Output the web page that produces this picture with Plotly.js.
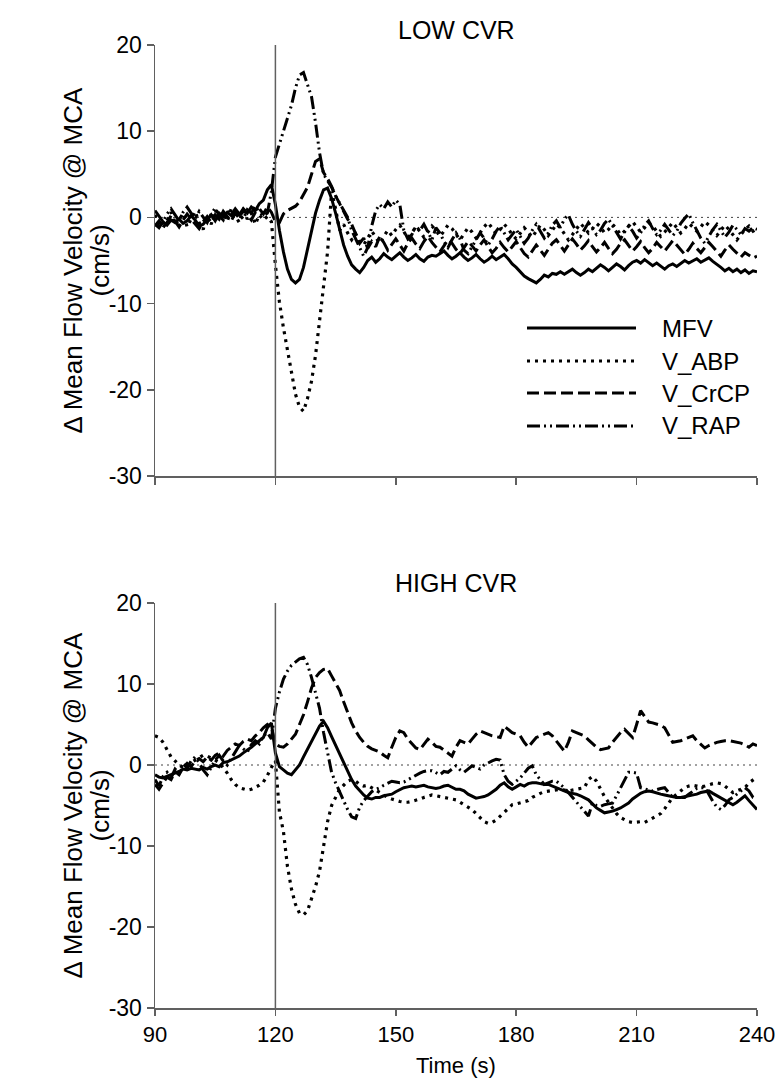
<!DOCTYPE html>
<html>
<head>
<meta charset="utf-8">
<script src="https://cdn.plot.ly/plotly-3.0.1.min.js"></script>
<style>html,body{margin:0;padding:0;background:#fff;}#chart{width:783px;height:1080px;}</style>
</head>
<body>
<div id="chart"></div>
<script>
// ---------- DATA ----------
const time = [
 90,91,92,93,94,95,96,97,98,99,
 100,101,102,103,104,105,106,107,108,109,
 110,111,112,113,114,115,116,117,118,119,
 120,121,122,123,124,125,126,127,128,129,
 130,131,132,133,134,135,136,137,138,139,
 140,141,142,143,144,145,146,147,148,149,
 150,151,152,153,154,155,156,157,158,159,
 160,161,162,163,164,165,166,167,168,169,
 170,171,172,173,174,175,176,177,178,179,
 180,181,182,183,184,185,186,187,188,189,
 190,191,192,193,194,195,196,197,198,199,
 200,201,202,203,204,205,206,207,208,209,
 210,211,212,213,214,215,216,217,218,219,
 220,221,222,223,224,225,226,227,228,229,
 230,231,232,233,234,235,236,237,238,239,
 240];

const seriesNames = ['MFV', 'V_ABP', 'V_CrCP', 'V_RAP'];
const panelTitles = ['LOW CVR', 'HIGH CVR'];
const xTicks = [90, 120, 150, 180, 210, 240];
const yTicks = [-30, -20, -10, 0, 10, 20];
const yTickText = ['-30', '-20', '-10', '0', '10', '20'];
const stimulusTime = 120;
const baseline = 0;

// LOW CVR
const lowMFV = [
 -0.8,-1.2,-0.5,-0.9,-0.3,-0.6,-0.2,-0.7,-0.4,0.2,
 -0.3,-1.0,-0.8,-0.2,0.3,-0.4,0.5,0.1,0.6,0.2,
 0.8,0.3,1.0,0.5,1.2,0.8,1.6,2.0,3.2,3.8,
 1.5,-1.5,-4.0,-6.0,-7.2,-7.6,-7.2,-5.8,-3.8,-1.5,
 0.5,2.0,3.2,3.4,2.2,0.5,-1.5,-3.2,-4.5,-5.5,
 -6.0,-6.4,-5.8,-5.0,-4.6,-5.2,-4.8,-4.2,-4.6,-4.9,
 -4.5,-4.1,-4.6,-5.0,-4.7,-4.3,-4.8,-5.1,-4.6,-4.4,
 -4.5,-4.2,-3.9,-4.4,-4.8,-4.5,-4.1,-4.6,-5.0,-4.7,
 -4.3,-4.8,-5.2,-4.9,-4.5,-4.9,-4.6,-4.3,-4.8,-5.4,
 -5.8,-6.3,-6.8,-7.1,-7.4,-7.6,-7.2,-6.7,-6.9,-6.5,
 -6.6,-6.3,-6.6,-6.3,-6.0,-6.4,-6.7,-6.4,-6.0,-6.3,
 -5.9,-5.5,-5.8,-6.2,-5.8,-5.4,-5.7,-6.1,-5.6,-5.2,
 -5.0,-5.3,-4.9,-5.2,-5.6,-5.3,-5.7,-6.0,-5.6,-5.4,
 -5.7,-5.4,-5.0,-5.3,-5.0,-4.8,-5.2,-4.9,-4.7,-5.1,
 -5.4,-5.8,-6.2,-5.9,-6.3,-6.0,-6.4,-6.1,-6.5,-6.2,
 -6.3];
const lowABP = [
 0.3,-0.8,-1.2,-0.4,0.6,-0.9,-0.3,0.5,-1.1,-0.2,
 0.7,-0.6,-1.4,0.2,-0.8,0.9,-0.3,0.6,-0.5,1.0,
 0.2,-0.6,0.8,-0.2,0.5,-0.8,0.3,-0.3,0.1,-0.5,
 -5.5,-9.8,-12.8,-15.5,-18.2,-20.5,-22.0,-22.5,-21.0,-19.0,
 -16.0,-12.0,-8.5,-4.0,3.0,1.0,-1.5,-0.8,-1.8,-2.6,
 -1.9,-2.8,-3.2,-2.4,-1.6,-2.3,-3.0,-2.2,-1.5,-2.1,
 -1.4,-0.9,-1.7,-2.4,-1.8,-1.1,-1.6,-2.3,-1.7,-1.0,
 -1.5,-2.2,-1.6,-0.9,-1.3,-2.0,-2.6,-1.9,-1.2,-1.7,
 -2.4,-1.8,-1.1,-0.6,-1.2,-1.9,-1.4,-0.8,-1.3,-2.0,
 -2.5,-1.8,-1.2,-1.7,-2.3,-1.6,-0.9,-1.4,-2.1,-1.5,
 -0.8,-1.2,-1.9,-2.6,-2.0,-1.3,-0.7,-1.2,-1.8,-1.3,
 -0.7,-1.1,-1.8,-1.4,-0.8,-1.3,-2.0,-1.6,-1.0,-0.5,
 -1.1,-1.7,-1.2,-0.6,-1.0,-1.6,-2.2,-1.7,-1.1,-0.6,
 -1.2,-1.8,-1.3,-0.7,-1.1,-1.6,-1.1,-0.5,-0.9,-1.5,
 -2.1,-1.5,-0.9,-1.4,-2.0,-2.6,-2.0,-1.4,-1.0,-1.6,
 -1.3];
const lowCrCP = [
 -1.0,-0.4,-1.2,-0.6,0.2,-0.5,-1.1,-0.3,0.4,-0.2,
 -0.8,-1.3,-0.5,0.1,-0.6,0.3,-0.2,0.7,0.1,-0.4,
 0.5,-0.1,0.9,0.3,-0.3,0.6,1.0,0.4,1.2,0.6,
 -0.5,-0.6,0.4,0.8,1.1,1.3,1.8,2.6,3.5,5.0,
 6.5,6.8,5.2,4.5,3.6,2.5,1.6,0.8,-0.2,-0.8,
 -2.0,-3.0,-2.4,-3.6,-2.8,-3.4,-2.2,-2.9,-3.8,-3.1,
 -2.5,-3.2,-3.9,-3.0,-2.4,-3.1,-3.6,-2.8,-2.2,-2.9,
 -3.5,-4.0,-3.3,-2.6,-3.0,-3.7,-4.2,-3.5,-2.8,-3.3,
 -3.9,-3.2,-2.6,-3.4,-4.1,-3.6,-2.9,-3.5,-4.0,-3.4,
 -2.8,-3.5,-4.2,-4.6,-3.9,-3.2,-3.8,-4.4,-3.7,-3.0,
 -2.6,-3.3,-3.9,-3.2,-2.5,-3.1,-3.8,-3.3,-2.7,-3.4,
 -4.0,-3.5,-2.9,-3.6,-4.2,-3.7,-3.0,-2.6,-3.3,-3.9,
 -3.4,-2.8,-3.5,-4.1,-3.6,-2.9,-3.4,-3.9,-3.3,-2.7,
 -3.2,-3.8,-4.3,-3.7,-3.0,-3.6,-4.1,-3.5,-2.9,-3.4,
 -4.0,-4.5,-3.8,-3.2,-3.7,-4.2,-4.6,-4.1,-4.4,-4.7,
 -4.5];
const lowRAP = [
 0.8,0.2,-0.5,0.4,1.0,0.3,-0.4,0.6,1.2,0.5,
 -0.2,0.7,0.1,-0.6,0.4,1.1,0.2,-0.3,0.8,0.3,
 1.0,0.4,-0.2,0.9,0.5,1.3,0.6,0.2,0.5,3.0,
 7.0,8.5,10.0,11.5,13.0,15.0,16.5,16.8,15.5,14.0,
 11.0,7.5,5.0,4.2,3.5,2.5,1.7,0.8,0.0,-1.5,
 -2.5,-3.5,-4.5,-3.5,-1.0,0.8,1.5,1.0,1.8,1.2,
 2.0,1.5,-1.5,-2.5,-2.0,-1.0,-1.5,-0.8,-1.8,-2.6,
 -1.2,-1.8,-2.8,-3.5,-2.6,-1.8,-2.5,-3.8,-4.2,-3.4,
 -2.6,-1.8,-2.4,-3.2,-2.5,-1.6,-1.0,-1.8,-2.6,-2.0,
 -1.4,-2.2,-3.0,-2.4,-1.5,-0.8,-1.6,-2.4,-1.8,-0.9,
 -0.4,-1.2,-0.2,0.3,-0.8,-1.6,-2.2,-1.4,-0.6,-1.3,
 -2.0,-1.5,-0.7,-0.2,-1.0,-1.8,-2.5,-1.7,-1.0,-1.6,
 -2.4,-1.8,-0.9,-0.4,-1.3,-2.0,-1.5,-0.8,-1.4,-2.1,
 -1.6,-0.7,-0.1,0.4,-0.6,-1.5,-2.4,-3.0,-2.2,-1.4,
 -0.8,-1.5,-2.3,-1.7,-0.9,-1.4,-2.0,-1.3,-1.6,-1.2,
 -1.4];

// HIGH CVR
const highMFV = [
 -1.2,-1.5,-1.6,-1.4,-1.2,-1.0,-0.8,-0.5,-0.6,-0.4,
 -0.5,-0.6,-0.3,-0.5,-0.2,0.0,-0.2,0.3,0.4,0.6,
 0.9,1.1,1.5,1.8,2.2,2.6,3.0,3.4,4.6,5.2,
 1.5,-0.2,-0.6,-1.0,-1.2,-0.6,0.0,1.0,2.0,3.0,
 3.9,4.8,5.4,4.6,3.5,2.4,1.5,0.3,-0.8,-1.8,
 -2.6,-3.2,-3.7,-4.1,-4.2,-4.0,-4.0,-3.8,-3.7,-3.6,
 -3.3,-3.0,-2.8,-2.7,-2.6,-2.7,-2.6,-2.5,-2.7,-2.8,
 -2.9,-2.8,-2.6,-2.5,-2.8,-3.0,-3.0,-3.2,-3.6,-3.9,
 -4.1,-4.0,-3.9,-3.7,-3.4,-3.0,-2.5,-2.2,-2.7,-3.0,
 -2.7,-2.4,-2.6,-2.3,-2.2,-2.2,-2.3,-2.4,-2.4,-2.6,
 -2.8,-3.0,-3.2,-3.4,-3.5,-3.6,-3.8,-4.1,-4.3,-4.8,
 -5.3,-5.6,-5.9,-5.8,-5.7,-5.5,-5.3,-5.0,-4.7,-4.2,
 -3.8,-3.5,-3.3,-3.2,-3.3,-3.5,-3.6,-3.7,-3.8,-3.9,
 -4.0,-4.0,-3.9,-3.8,-3.7,-3.6,-3.4,-3.3,-3.2,-3.5,
 -3.8,-4.0,-4.3,-4.6,-4.9,-4.6,-4.2,-3.8,-4.4,-5.0,
 -5.5];
const highABP = [
 3.6,3.4,2.8,1.8,1.0,0.5,0.0,-0.3,-0.2,0.3,
 0.6,1.0,1.2,1.1,0.9,0.6,0.3,-0.3,-1.0,-1.8,
 -2.4,-2.8,-3.0,-3.1,-3.0,-2.8,-2.5,-2.1,-1.3,-0.3,
 0.5,-5.8,-8.2,-12.5,-15.3,-17.2,-18.3,-18.5,-18.0,-16.5,
 -15.0,-13.1,-10.2,-7.0,-5.0,-3.9,-3.0,-2.5,-2.0,-1.8,
 -2.0,-2.4,-2.6,-2.5,-2.8,-3.1,-3.5,-3.8,-4.0,-4.2,
 -4.4,-4.5,-4.6,-4.6,-4.5,-4.4,-4.2,-4.0,-3.8,-3.7,
 -3.8,-3.9,-4.0,-4.1,-4.2,-4.3,-4.6,-4.9,-5.2,-5.5,
 -6.0,-6.5,-7.0,-7.2,-7.1,-6.8,-6.3,-5.8,-5.3,-4.9,
 -4.8,-4.7,-4.5,-4.4,-4.0,-3.7,-3.5,-3.3,-3.2,-3.1,
 -3.0,-3.0,-3.1,-3.2,-3.1,-3.0,-2.9,-2.8,-1.8,-1.4,
 -2.0,-3.0,-3.9,-4.6,-5.3,-6.0,-6.5,-6.8,-7.0,-7.1,
 -7.0,-7.0,-7.1,-6.8,-6.5,-6.3,-6.0,-5.4,-4.7,-4.0,
 -3.6,-3.2,-2.8,-2.6,-2.5,-2.6,-2.7,-2.6,-2.4,-2.3,
 -2.2,-2.3,-2.6,-3.0,-3.4,-3.2,-3.0,-2.8,-2.2,-1.8,
 -1.5];
const highCrCP = [
 -2.4,-3.0,-2.2,-1.5,-1.8,-0.8,-1.2,-0.3,0.2,-0.2,
 0.5,0.8,0.4,1.0,0.6,1.2,1.5,1.1,1.8,2.2,
 2.6,2.4,2.9,3.2,3.0,3.6,4.0,4.6,5.0,4.6,
 2.6,2.3,2.2,2.6,3.2,3.8,5.0,6.2,7.8,9.5,
 10.8,11.4,11.8,11.9,11.0,10.0,9.2,7.8,6.4,5.2,
 4.2,3.4,2.8,2.3,2.0,1.8,1.6,1.2,0.9,2.2,
 3.4,4.2,4.0,3.2,2.6,2.1,1.9,2.6,3.2,2.8,
 2.3,2.2,1.8,1.4,1.1,2.2,3.0,2.8,2.6,3.2,
 3.8,4.2,4.0,3.8,3.6,3.5,3.4,4.8,4.4,4.0,
 3.8,3.6,2.8,2.2,2.8,3.4,3.6,3.8,4.0,3.6,
 3.0,2.4,1.7,2.8,4.2,4.0,3.8,3.6,3.1,2.6,
 2.2,1.9,2.0,2.1,2.8,3.4,4.0,4.4,3.9,3.4,
 5.0,6.7,6.0,5.3,5.2,5.0,4.9,4.6,3.6,2.8,
 2.9,3.0,3.2,3.4,3.6,3.0,2.5,2.1,2.4,2.6,
 2.8,2.9,3.0,3.0,2.9,2.8,2.7,2.5,2.2,2.6,
 2.4];
const highRAP = [
 -1.8,-2.6,-1.4,-0.9,-1.6,-0.5,-1.0,0.2,-0.4,0.5,
 1.0,0.3,-0.6,-1.2,-0.3,0.6,1.2,0.5,0.0,0.8,
 1.5,2.4,2.0,1.6,2.5,3.0,2.6,3.6,4.0,3.2,
 7.0,9.0,10.6,11.6,12.3,12.7,13.1,13.3,12.4,10.8,
 9.0,7.0,4.0,1.6,-0.9,-2.2,-3.2,-4.4,-5.5,-6.4,
 -6.6,-5.2,-4.4,-3.8,-3.3,-3.0,-2.8,-2.5,-2.2,-2.0,
 -2.1,-2.2,-2.1,-1.8,-1.6,-1.3,-1.0,-0.8,-0.7,-0.7,
 -1.0,-1.2,-0.8,-0.9,-0.5,-0.1,-0.6,-0.9,-0.5,-0.1,
 -0.3,-0.5,0.0,0.3,0.5,0.7,0.6,-1.2,-2.0,-2.4,
 -2.0,-1.6,-1.0,-0.4,-0.1,-1.2,-1.8,-2.4,-2.2,-2.0,
 -2.0,-2.4,-2.8,-3.4,-4.0,-4.6,-5.1,-5.8,-6.3,-4.7,
 -5.0,-5.1,-4.9,-4.8,-4.7,-3.8,-2.8,-1.8,-0.9,-0.9,
 -1.0,-2.8,-3.0,-3.1,-3.2,-3.0,-2.9,-2.8,-3.4,-4.0,
 -4.0,-4.0,-4.0,-3.6,-3.2,-2.9,-2.8,-2.8,-3.6,-4.5,
 -5.2,-5.5,-5.0,-4.3,-4.0,-3.6,-3.2,-2.8,-3.2,-4.0,
 -4.2];

// ---------- STYLE ----------
const FONT = '"Liberation Sans", Arial, sans-serif';
const lineStyles = [
  {color:'#000', width:3, dash:'solid'},
  {color:'#000', width:3.2, dash:'3px,5px'},
  {color:'#000', width:3, dash:'12px,5px'},
  {color:'#000', width:3, dash:'13px,4px,2px,4px,2px,4px'}
];
const W = 783, H = 1080, ML = 155, MR = 26;
const PW = W - ML - MR;
const panels = [
  {top:45, bottom:476, titleY:30, xa:'x', ya:'y', data:[lowMFV, lowABP, lowCrCP, lowRAP]},
  {top:603, bottom:1008, titleY:583, xa:'x2', ya:'y2', data:[highMFV, highABP, highCrCP, highRAP]}
];
const py = p => 1 - p / H;
const px = p => (p - ML) / PW;

const traces = [];
panels.forEach(pn => {
  pn.data.forEach((vals, i) => {
    traces.push({
      x: time, y: vals, type:'scatter', mode:'lines', name: seriesNames[i],
      xaxis: pn.xa, yaxis: pn.ya, showlegend:false, hoverinfo:'skip',
      line: lineStyles[i]
    });
  });
});

const axisCommon = {
  showline:true, linecolor:'#606060', linewidth:1.5, showgrid:false, zeroline:false,
  ticks:'outside', ticklen:7, tickwidth:1.5, tickcolor:'#606060',
  tickfont:{family:FONT, size:23, color:'#000'}, fixedrange:true
};

const layout = {
  width:W, height:H,
  margin:{l:ML, r:MR, t:0, b:0, pad:0},
  paper_bgcolor:'#fff', plot_bgcolor:'rgba(0,0,0,0)',
  showlegend:false,
  font:{family:FONT, size:23, color:'#000'},
  xaxis: Object.assign({}, axisCommon, {anchor:'y', range:[90,240], tickmode:'array', tickvals:xTicks, showticklabels:false}),
  yaxis: Object.assign({}, axisCommon, {anchor:'x', range:[-30,20], tickmode:'array', tickvals:yTicks, ticktext:yTickText,
    domain:[py(panels[0].bottom), py(panels[0].top)]}),
  xaxis2: Object.assign({}, axisCommon, {anchor:'y2', range:[90,240], tickmode:'array', tickvals:xTicks, showticklabels:true,
    ticklen:6, tickfont:{family:FONT, size:22, color:'#000'}}),
  yaxis2: Object.assign({}, axisCommon, {anchor:'x2', range:[-30,20], tickmode:'array', tickvals:yTicks, ticktext:yTickText,
    domain:[py(panels[1].bottom), py(panels[1].top)]}),
  shapes: [],
  annotations: []
};

panels.forEach((pn, k) => {
  const yd = pn.ya === 'y' ? 'y domain' : 'y2 domain';
  const mid = (pn.top + pn.bottom) / 2;
  layout.shapes.push({type:'line', layer:'below', xref:pn.xa, yref:pn.ya, x0:90, x1:240, y0:baseline, y1:baseline,
    line:{color:'#444', width:1, dash:'2px,4px'}});
  layout.shapes.push({type:'line', layer:'above', xref:pn.xa, yref:yd, x0:stimulusTime, x1:stimulusTime, y0:0, y1:1,
    line:{color:'#606060', width:1.5}});
  layout.annotations.push({text:panelTitles[k], xref:'paper', yref:'paper', x:0.5, y:py(pn.titleY),
    xanchor:'center', yanchor:'middle', showarrow:false, font:{family:FONT, size:25, color:'#000'}});
  layout.annotations.push({text:'\u0394 Mean Flow Velocity @ MCA', xref:'paper', yref:'paper',
    x:px(72), y:py(mid), xanchor:'center', yanchor:'middle', textangle:-90, showarrow:false,
    font:{family:FONT, size:26, color:'#000'}});
  layout.annotations.push({text:'(cm/s)', xref:'paper', yref:'paper',
    x:px(99), y:py(mid), xanchor:'center', yanchor:'middle', textangle:-90, showarrow:false,
    font:{family:FONT, size:26, color:'#000'}});
});
layout.annotations.push({text:'Time (s)', xref:'paper', yref:'paper', x:0.5, y:py(1065),
  xanchor:'center', yanchor:'middle', showarrow:false, font:{family:FONT, size:22, color:'#000'}});

// legend (top panel)
const legRows = [328, 361, 393, 426];
seriesNames.forEach((nm, i) => {
  layout.shapes.push({type:'line', xref:'paper', yref:'paper', x0:px(527), x1:px(636), y0:py(legRows[i]), y1:py(legRows[i]),
    line:lineStyles[i]});
  layout.annotations.push({text:nm, xref:'paper', yref:'paper', x:px(660), y:py(legRows[i]), xanchor:'left', yanchor:'middle',
    showarrow:false, font:{family:FONT, size:24, color:'#000'}});
});

Plotly.newPlot('chart', traces, layout, {staticPlot:true, displayModeBar:false});
</script>
</body>
</html>
